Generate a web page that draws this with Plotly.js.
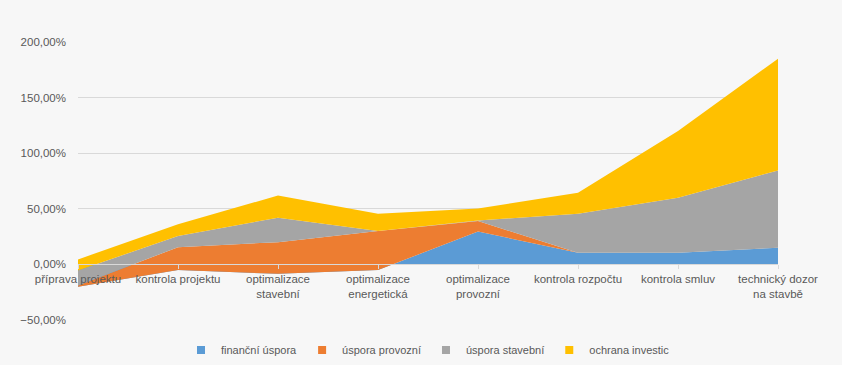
<!DOCTYPE html>
<html>
<head>
<meta charset="utf-8">
<script src="https://cdn.plot.ly/plotly-3.0.1.min.js"></script>
<style>
  html, body { margin: 0; padding: 0; background: #f7f7f7; }
  #chart { width: 842px; height: 365px; }
</style>
</head>
<body>
<div id="chart"></div>
<script>
const categories = [
  "příprava projektu",
  "kontrola projektu",
  "optimalizace<br>stavební",
  "optimalizace<br>energetická",
  "optimalizace<br>provozní",
  "kontrola rozpočtu",
  "kontrola smluv",
  "technický dozor<br>na stavbě"
];
const seriesNames = ["finanční úspora", "úspora provozní", "úspora stavební", "ochrana investic"];
const financniUspora = [-0.20, -0.05, -0.085, -0.05, 0.295, 0.105, 0.105, 0.15];
const usporaProvozni = [0.01, 0.205, 0.285, 0.35, 0.095, 0.0, 0.0, 0.0];
const usporaStavebni = [0.135, 0.10, 0.22, 0.0, 0.005, 0.35, 0.495, 0.695];
const ochranaInvestic = [0.10, 0.105, 0.20, 0.155, 0.108, 0.19, 0.60, 1.005];
const colors = ["#5B9BD5", "#ED7D31", "#A5A5A5", "#FFC000"];

const seriesValues = [financniUspora, usporaProvozni, usporaStavebni, ochranaInvestic];
const traces = seriesValues.map((vals, i) => ({
  type: "scatter",
  mode: "none",
  x: categories,
  y: vals,
  name: seriesNames[i],
  legendgroup: "g" + i,
  showlegend: false,
  stackgroup: "one",
  fillcolor: colors[i],
  line: { width: 0, color: colors[i] },
  hoverinfo: "skip"
}));
// legend entries with square keys, like the reference
seriesNames.forEach((n, i) => {
  traces.push({
    type: "scatter",
    mode: "markers",
    x: [null],
    y: [null],
    name: n,
    legendgroup: "g" + i,
    showlegend: true,
    marker: { symbol: "square", size: 8, color: colors[i] },
    hoverinfo: "skip"
  });
});

const font = { family: "Liberation Sans, Arial, sans-serif", size: 11.5, color: "#595959" };

const layout = {
  width: 842,
  height: 365,
  paper_bgcolor: "#f7f7f7",
  plot_bgcolor: "#f7f7f7",
  separators: ",.",
  font: font,
  margin: { l: 78, r: 64, t: 42, b: 45, autoexpand: false },
  showlegend: true,
  legend: {
    orientation: "h",
    xref: "paper",
    x: 0.5, xanchor: "center",
    yref: "container",
    y: 0.041, yanchor: "middle",
    font: { family: font.family, size: 11, color: "#595959" },
    traceorder: "normal",
    itemwidth: 30,
    bgcolor: "rgba(0,0,0,0)"
  },
  xaxis: {
    type: "category",
    range: [0, 7],
    anchor: "free",
    position: 0.2,
    showline: true,
    linecolor: "#d9d9d9",
    linewidth: 1,
    ticks: "outside",
    ticklen: 4,
    tickcolor: "#d9d9d9",
    showgrid: false,
    zeroline: false,
    tickfont: font,
    layer: "above traces",
    tickangle: 0
  },
  yaxis: {
    range: [-0.5, 2.0],
    dtick: 0.5,
    tick0: 0,
    tickformat: ".2%",
    gridcolor: "#d9d9d9",
    gridwidth: 1,
    zeroline: false,
    showline: false,
    ticks: "",
    tickfont: font,
    ticklabelstandoff: 11
  }
};

Plotly.newPlot("chart", traces, layout, { displayModeBar: false, staticPlot: true });
</script>
</body>
</html>
